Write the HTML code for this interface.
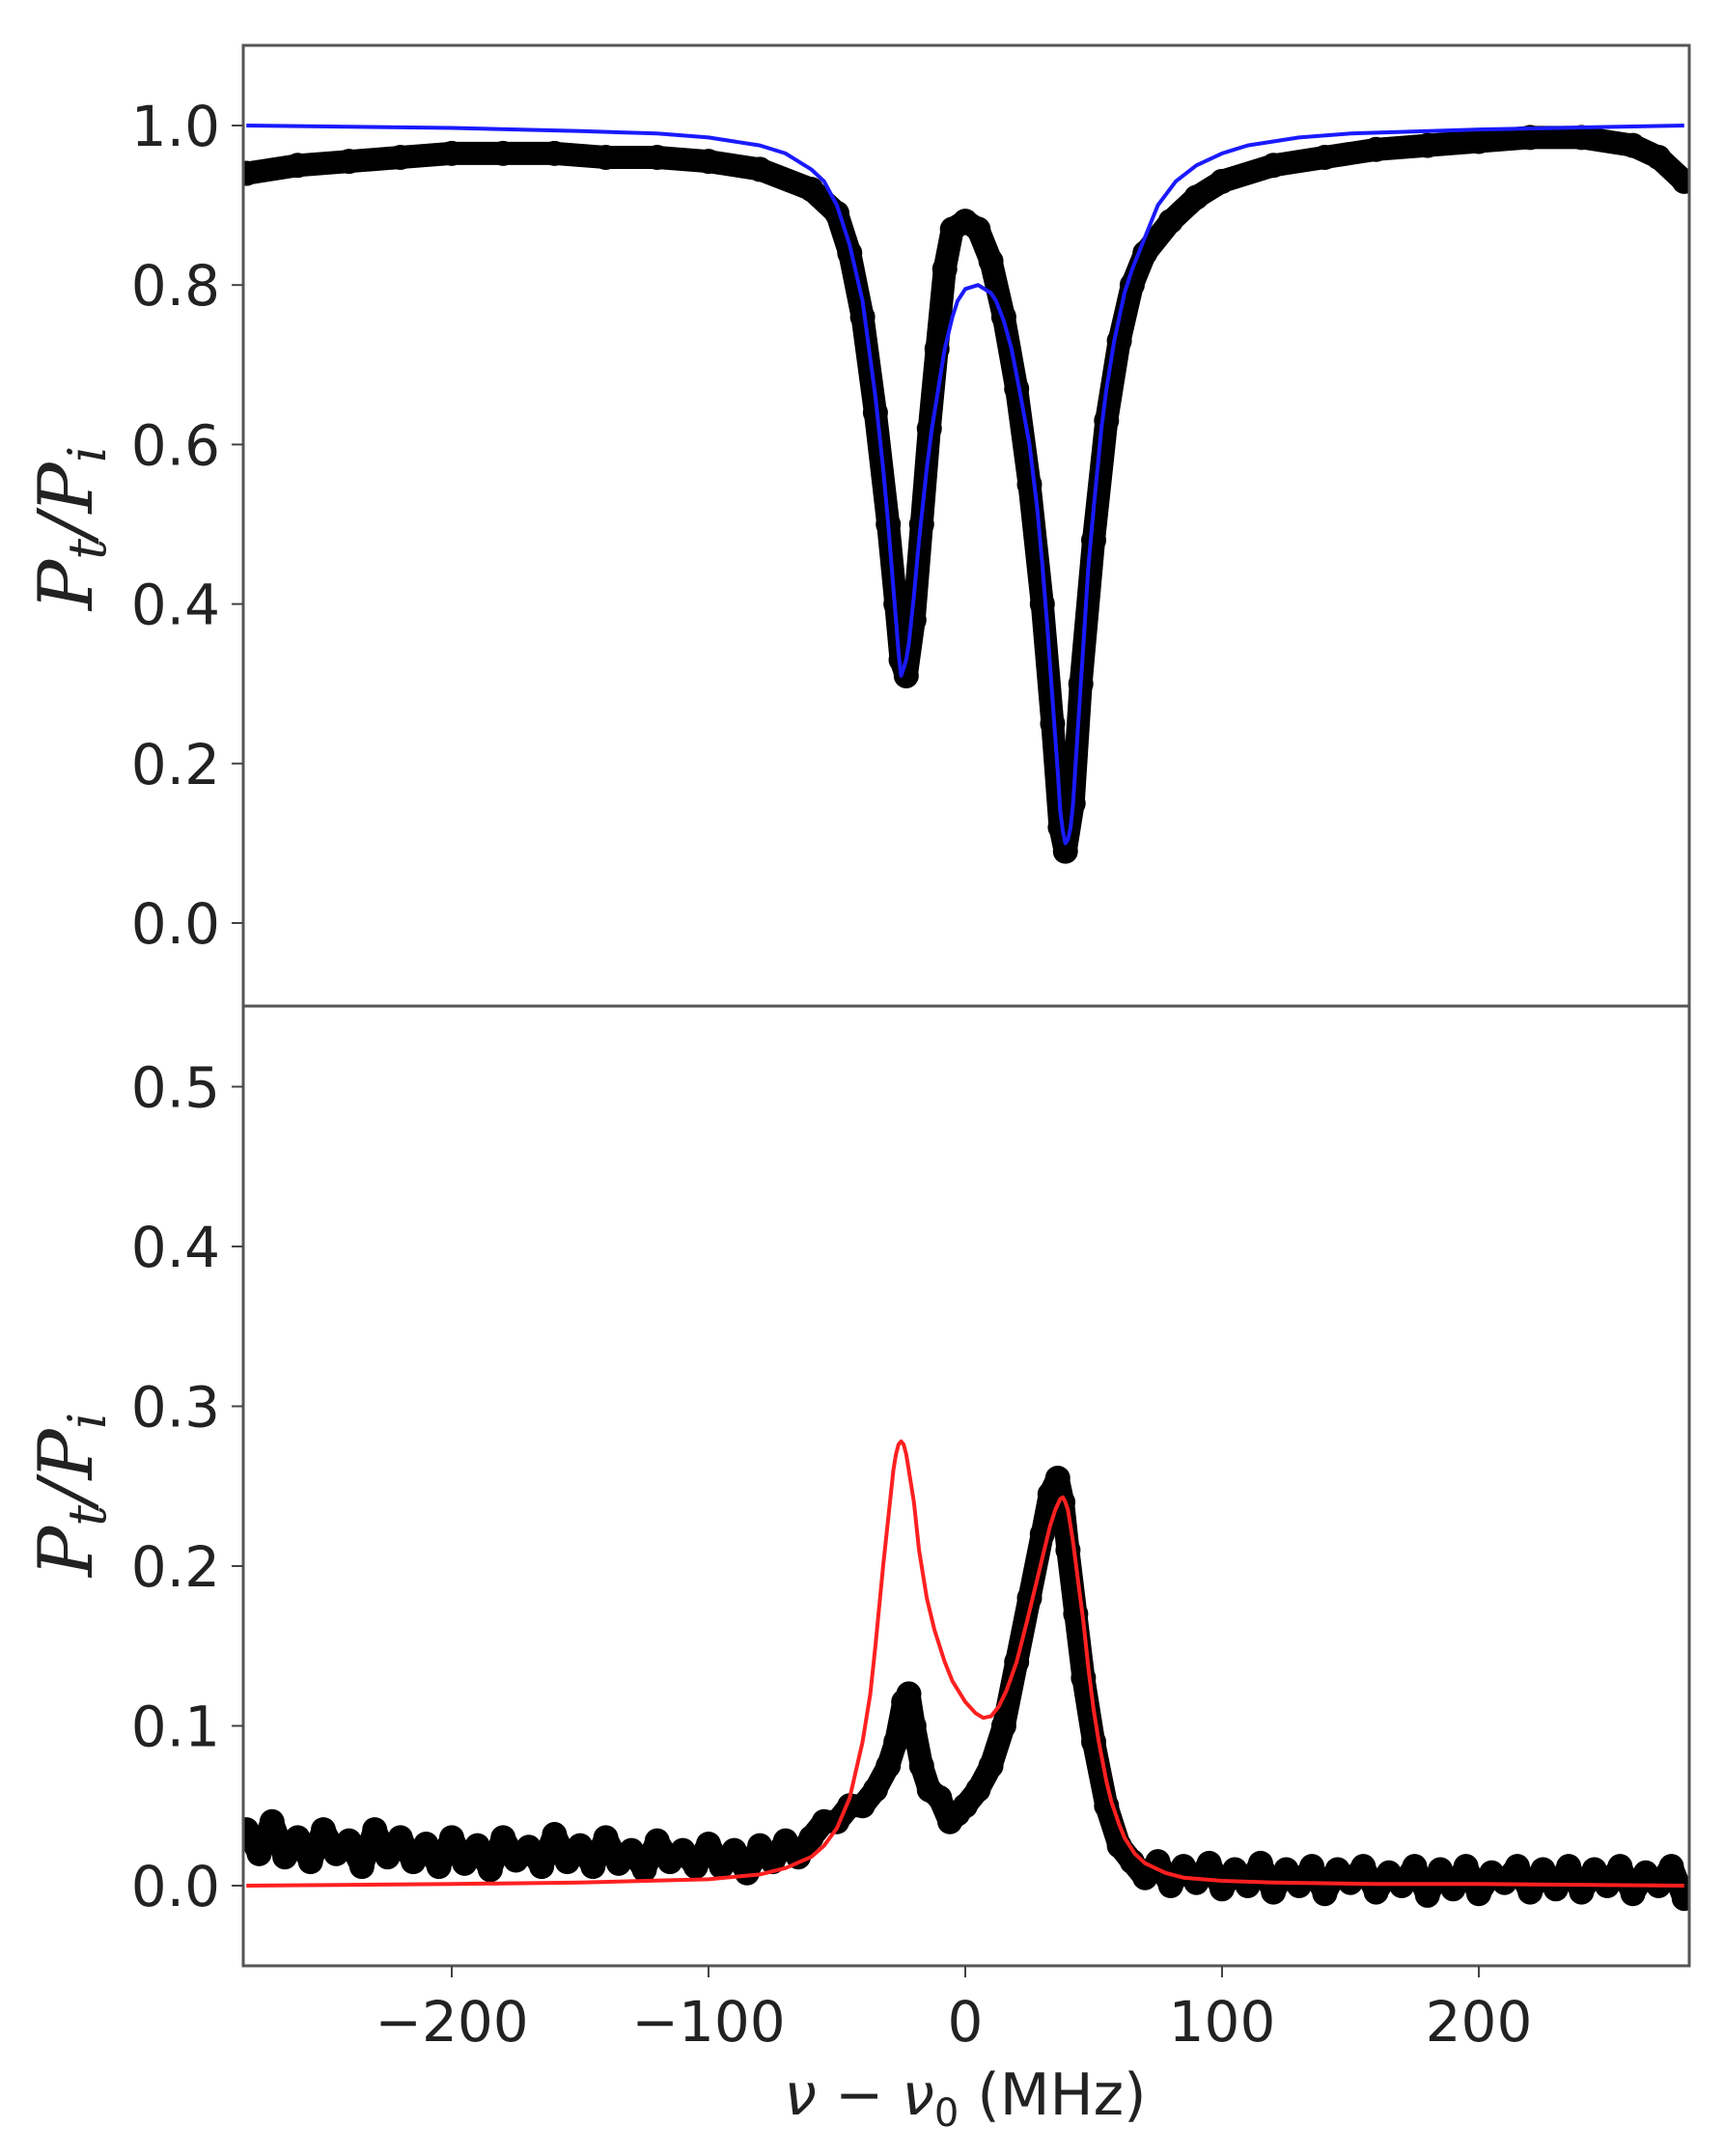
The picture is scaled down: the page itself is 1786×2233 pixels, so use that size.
<!DOCTYPE html>
<html><head><meta charset="utf-8"><style>
html,body{margin:0;padding:0;background:#fff;}
svg{display:block;}
text{font-family:"DejaVu Sans","Liberation Sans",sans-serif;fill:#222;}
</style></head><body>
<svg id="chart" width="1786" height="2233" viewBox="0 0 1786 2233" xmlns="http://www.w3.org/2000/svg">
<g id="top"></g>
<g id="bot"></g>
<text transform="translate(95,547) rotate(-90)" text-anchor="middle" style="font-family:'DejaVu Serif','Liberation Serif',serif;font-style:italic;font-size:78px;">P<tspan font-size="54" dy="14">t</tspan><tspan dy="-14">/P</tspan><tspan font-size="54" dy="14">i</tspan></text>
<text transform="translate(95,1548) rotate(-90)" text-anchor="middle" style="font-family:'DejaVu Serif','Liberation Serif',serif;font-style:italic;font-size:78px;">P<tspan font-size="54" dy="14">t</tspan><tspan dy="-14">/P</tspan><tspan font-size="54" dy="14">i</tspan></text>
<text x="1000" y="2190" text-anchor="middle" style="font-size:60px;"><tspan font-style="italic">ν</tspan> − <tspan font-style="italic">ν</tspan><tspan font-size="40" dy="12">0</tspan><tspan dy="-12"> (MHz)</tspan></text>
</svg>
<script>
const xTicks=[-200,-100,0,100,200];
const topTicks=[0.0,0.2,0.4,0.6,0.8,1.0];
const botTicks=[0.0,0.1,0.2,0.3,0.4,0.5];
const topDataX=[-280,-260,-240,-220,-200,-180,-160,-140,-120,-100,-80,-60,-50,-45,-40,-35,-30,-27,-25,-23,-20,-17,-14,-11,-8,-5,0,5,10,15,20,25,30,34,37,39,42,45,50,55,60,65,70,80,90,100,120,140,160,180,200,220,240,260,270,280];
const topDataY=[0.94,0.95,0.955,0.96,0.965,0.965,0.965,0.96,0.96,0.955,0.945,0.92,0.89,0.84,0.76,0.64,0.5,0.4,0.33,0.31,0.38,0.5,0.62,0.72,0.82,0.87,0.88,0.87,0.83,0.76,0.67,0.55,0.4,0.25,0.12,0.09,0.15,0.3,0.48,0.63,0.73,0.8,0.84,0.88,0.91,0.93,0.95,0.96,0.97,0.975,0.98,0.985,0.985,0.975,0.96,0.93];
const topFitX=[-280,-200,-150,-120,-100,-90,-80,-70,-60,-55,-50,-45,-40,-35,-32,-30,-28,-27,-26,-25,-24,-23,-22,-20,-18,-15,-13,-10,-8,-5,-3,0,5,10,12,15,18,21,25,28,30,32,34,36,37,38,39,40,41,42,44,46,48,50,53,55,58,62,65,70,75,82,90,100,110,130,150,200,280];
const topFitY=[1,0.997,0.993,0.99,0.985,0.98,0.975,0.965,0.945,0.93,0.9,0.85,0.78,0.66,0.57,0.5,0.42,0.38,0.34,0.31,0.32,0.33,0.35,0.41,0.48,0.57,0.62,0.68,0.72,0.76,0.78,0.795,0.8,0.79,0.78,0.755,0.72,0.67,0.6,0.52,0.45,0.37,0.28,0.19,0.14,0.115,0.1,0.105,0.12,0.15,0.25,0.35,0.45,0.52,0.62,0.67,0.73,0.79,0.82,0.86,0.9,0.93,0.95,0.965,0.975,0.985,0.99,0.995,1];
const botDataX=[-280,-275,-270,-265,-260,-255,-250,-245,-240,-235,-230,-225,-220,-215,-210,-205,-200,-195,-190,-185,-180,-175,-170,-165,-160,-155,-150,-145,-140,-135,-130,-125,-120,-115,-110,-105,-100,-95,-90,-85,-80,-75,-70,-65,-60,-55,-50,-45,-40,-35,-30,-27,-24,-22,-20,-17,-14,-10,-6,-3,0,5,10,15,20,25,30,33,36,38,40,43,46,50,55,60,65,70,75,80,85,90,95,100,105,110,115,120,125,130,135,140,145,150,155,160,165,170,175,180,185,190,195,200,205,210,215,220,225,230,235,240,245,250,255,260,265,270,275,280];
const botDataY=[0.035,0.02,0.04,0.018,0.03,0.015,0.035,0.02,0.028,0.012,0.035,0.018,0.03,0.015,0.026,0.012,0.03,0.014,0.025,0.01,0.03,0.016,0.024,0.012,0.032,0.015,0.025,0.012,0.03,0.014,0.022,0.01,0.028,0.015,0.022,0.012,0.026,0.012,0.022,0.008,0.025,0.015,0.028,0.018,0.03,0.04,0.04,0.05,0.05,0.06,0.075,0.09,0.115,0.12,0.1,0.075,0.06,0.055,0.04,0.045,0.05,0.06,0.075,0.1,0.14,0.18,0.22,0.245,0.255,0.24,0.21,0.17,0.13,0.09,0.05,0.025,0.015,0.005,0.015,0.0,0.012,0.002,0.014,-0.002,0.01,0.0,0.014,-0.004,0.01,0.0,0.012,-0.005,0.01,0.002,0.012,-0.004,0.008,0.0,0.012,-0.006,0.01,-0.002,0.012,-0.005,0.008,0.002,0.012,-0.004,0.01,-0.002,0.012,-0.004,0.01,0.0,0.012,-0.005,0.008,0.0,0.012,-0.008];
const botFitX=[-280,-200,-150,-100,-80,-70,-60,-55,-50,-45,-40,-37,-35,-32,-30,-28,-27,-26,-25,-24,-23,-22,-20,-18,-15,-12,-8,-5,0,4,7,10,13,16,20,24,27,30,33,35,37,38,39,40,42,44,46,48,50,52,55,57,60,62,66,70,78,85,100,120,160,200,280];
const botFitY=[0,0.001,0.002,0.004,0.007,0.011,0.018,0.025,0.036,0.055,0.09,0.12,0.15,0.2,0.23,0.26,0.27,0.276,0.278,0.276,0.27,0.26,0.24,0.21,0.18,0.16,0.14,0.128,0.115,0.108,0.105,0.106,0.112,0.122,0.14,0.165,0.185,0.205,0.225,0.235,0.242,0.243,0.24,0.235,0.215,0.19,0.165,0.135,0.11,0.09,0.065,0.052,0.038,0.03,0.02,0.014,0.008,0.005,0.003,0.002,0.001,0.001,0];
const NS='http://www.w3.org/2000/svg';
const L=252,R=1750;
const xs=v=>1000+v*2.66;
const yt=v=>956-v*826;
const yb=v=>1953-v*1655;
function mk(p,tag,a){const e=document.createElementNS(NS,tag);for(const k in a)e.setAttribute(k,a[k]);p.appendChild(e);return e;}
function pts(X,Y,f){return X.map((x,i)=>xs(x).toFixed(1)+','+f(Y[i]).toFixed(1)).join(' ');}
function panel(g,top,bottom,yf,ticks,dX,dY,fX,fY,col,showX,sw,rr){
  const cid='clip'+top;
  const cp=mk(g,'clipPath',{id:cid});mk(cp,'rect',{x:L,y:top,width:R-L,height:bottom-top});
  const dg=mk(g,'g',{'clip-path':'url(#'+cid+')'});
  const dl=mk(dg,'polyline',{points:pts(dX,dY,yf),fill:'none',stroke:'#000','stroke-width':sw,'stroke-linejoin':'round','stroke-linecap':'round'});
  
  
  dX.forEach((x,i)=>{const c=mk(dg,'circle',{cx:xs(x),cy:yf(dY[i]),r:rr,fill:'#000'});
    
    });
  const fl=mk(dg,'polyline',{points:pts(fX,fY,yf),fill:'none',stroke:col,'stroke-width':4,'stroke-linejoin':'round'});
  
  
  const fr=mk(g,'rect',{x:L,y:top,width:R-L,height:bottom-top,fill:'none',stroke:'#555','stroke-width':3});
  
  
  ticks.forEach(t=>{const y=yf(t);mk(g,'line',{x1:L-12,x2:L,y1:y,y2:y,stroke:'#444','stroke-width':2});
    const tx=mk(g,'text',{x:228,y:y+21,'text-anchor':'end','font-size':58});tx.textContent=t.toFixed(1);
    
    });
  if(showX){xTicks.forEach(t=>{const x=xs(t);mk(g,'line',{x1:x,x2:x,y1:bottom,y2:bottom+12,stroke:'#444','stroke-width':2});
    const tx=mk(g,'text',{x:x,y:bottom+78,'text-anchor':'middle','font-size':58});tx.textContent=(t<0?'−':'')+Math.abs(t);
    
    });}
}
panel(document.getElementById('top'),47,1042,yt,topTicks,topDataX,topDataY,topFitX,topFitY,'#1a1aff',false,24,13);
panel(document.getElementById('bot'),1042,2036,yb,botTicks,botDataX,botDataY,botFitX,botFitY,'#ff2020',true,24,13);
</script>
</body></html>
